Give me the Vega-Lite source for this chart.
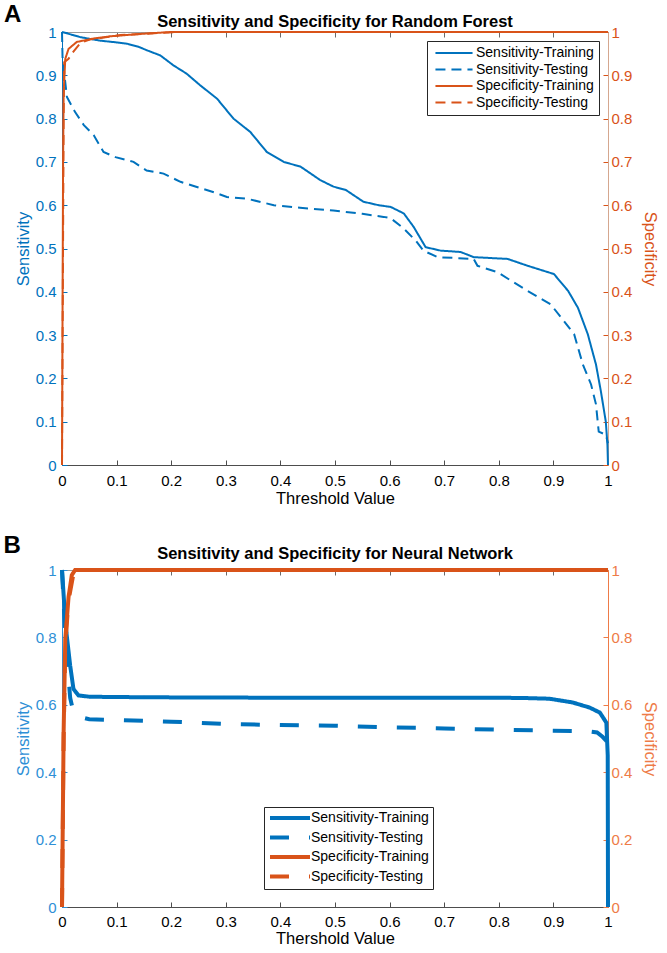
{
  "$schema": "https://vega.github.io/schema/vega-lite/v6.json",
  "padding": {"left": 3, "top": 3, "right": 5, "bottom": 3},
  "spacing": 26,
  "config": {
    "font": "Liberation Sans",
    "view": {"stroke": null},
    "axis": {"grid": false, "tickSize": -5, "labelPadding": 11, "labelFontSize": 15, "titleFontSize": 16.5, "titleFontWeight": "normal", "labelFont": "Liberation Sans", "titleFont": "Liberation Sans"},
    "legend": {"labelFontSize": 14, "labelFont": "Liberation Sans", "labelColor": "#000000", "title": null}
  },
  "datasets": {
    "rf": [
      {"measure":"Sensitivity","series":"Sensitivity-Training","threshold":0,"value":1},
      {"measure":"Sensitivity","series":"Sensitivity-Training","threshold":0.02,"value":0.993},
      {"measure":"Sensitivity","series":"Sensitivity-Training","threshold":0.034,"value":0.988},
      {"measure":"Sensitivity","series":"Sensitivity-Training","threshold":0.07,"value":0.98},
      {"measure":"Sensitivity","series":"Sensitivity-Training","threshold":0.1,"value":0.976},
      {"measure":"Sensitivity","series":"Sensitivity-Training","threshold":0.119,"value":0.973},
      {"measure":"Sensitivity","series":"Sensitivity-Training","threshold":0.14,"value":0.966},
      {"measure":"Sensitivity","series":"Sensitivity-Training","threshold":0.155,"value":0.958},
      {"measure":"Sensitivity","series":"Sensitivity-Training","threshold":0.18,"value":0.946},
      {"measure":"Sensitivity","series":"Sensitivity-Training","threshold":0.204,"value":0.923},
      {"measure":"Sensitivity","series":"Sensitivity-Training","threshold":0.228,"value":0.904},
      {"measure":"Sensitivity","series":"Sensitivity-Training","threshold":0.253,"value":0.877},
      {"measure":"Sensitivity","series":"Sensitivity-Training","threshold":0.284,"value":0.846},
      {"measure":"Sensitivity","series":"Sensitivity-Training","threshold":0.314,"value":0.8},
      {"measure":"Sensitivity","series":"Sensitivity-Training","threshold":0.345,"value":0.769},
      {"measure":"Sensitivity","series":"Sensitivity-Training","threshold":0.375,"value":0.723},
      {"measure":"Sensitivity","series":"Sensitivity-Training","threshold":0.406,"value":0.7},
      {"measure":"Sensitivity","series":"Sensitivity-Training","threshold":0.437,"value":0.689},
      {"measure":"Sensitivity","series":"Sensitivity-Training","threshold":0.473,"value":0.658},
      {"measure":"Sensitivity","series":"Sensitivity-Training","threshold":0.497,"value":0.643},
      {"measure":"Sensitivity","series":"Sensitivity-Training","threshold":0.52,"value":0.635},
      {"measure":"Sensitivity","series":"Sensitivity-Training","threshold":0.552,"value":0.608},
      {"measure":"Sensitivity","series":"Sensitivity-Training","threshold":0.58,"value":0.6},
      {"measure":"Sensitivity","series":"Sensitivity-Training","threshold":0.602,"value":0.596},
      {"measure":"Sensitivity","series":"Sensitivity-Training","threshold":0.626,"value":0.581},
      {"measure":"Sensitivity","series":"Sensitivity-Training","threshold":0.644,"value":0.55},
      {"measure":"Sensitivity","series":"Sensitivity-Training","threshold":0.666,"value":0.503},
      {"measure":"Sensitivity","series":"Sensitivity-Training","threshold":0.694,"value":0.495},
      {"measure":"Sensitivity","series":"Sensitivity-Training","threshold":0.73,"value":0.492},
      {"measure":"Sensitivity","series":"Sensitivity-Training","threshold":0.754,"value":0.48},
      {"measure":"Sensitivity","series":"Sensitivity-Training","threshold":0.816,"value":0.476},
      {"measure":"Sensitivity","series":"Sensitivity-Training","threshold":0.853,"value":0.46},
      {"measure":"Sensitivity","series":"Sensitivity-Training","threshold":0.901,"value":0.441},
      {"measure":"Sensitivity","series":"Sensitivity-Training","threshold":0.927,"value":0.402},
      {"measure":"Sensitivity","series":"Sensitivity-Training","threshold":0.945,"value":0.363},
      {"measure":"Sensitivity","series":"Sensitivity-Training","threshold":0.963,"value":0.302},
      {"measure":"Sensitivity","series":"Sensitivity-Training","threshold":0.978,"value":0.232},
      {"measure":"Sensitivity","series":"Sensitivity-Training","threshold":0.987,"value":0.17},
      {"measure":"Sensitivity","series":"Sensitivity-Training","threshold":0.996,"value":0.1},
      {"measure":"Sensitivity","series":"Sensitivity-Training","threshold":0.999,"value":0.046},
      {"measure":"Sensitivity","series":"Sensitivity-Training","threshold":1,"value":0},
      {"measure":"Sensitivity","series":"Sensitivity-Testing","threshold":0,"value":1},
      {"measure":"Sensitivity","series":"Sensitivity-Testing","threshold":0.001,"value":0.94},
      {"measure":"Sensitivity","series":"Sensitivity-Testing","threshold":0.009,"value":0.85},
      {"measure":"Sensitivity","series":"Sensitivity-Testing","threshold":0.024,"value":0.815},
      {"measure":"Sensitivity","series":"Sensitivity-Testing","threshold":0.04,"value":0.785},
      {"measure":"Sensitivity","series":"Sensitivity-Testing","threshold":0.058,"value":0.762},
      {"measure":"Sensitivity","series":"Sensitivity-Testing","threshold":0.076,"value":0.723},
      {"measure":"Sensitivity","series":"Sensitivity-Testing","threshold":0.098,"value":0.711},
      {"measure":"Sensitivity","series":"Sensitivity-Testing","threshold":0.131,"value":0.7},
      {"measure":"Sensitivity","series":"Sensitivity-Testing","threshold":0.155,"value":0.68},
      {"measure":"Sensitivity","series":"Sensitivity-Testing","threshold":0.186,"value":0.673},
      {"measure":"Sensitivity","series":"Sensitivity-Testing","threshold":0.217,"value":0.654},
      {"measure":"Sensitivity","series":"Sensitivity-Testing","threshold":0.247,"value":0.642},
      {"measure":"Sensitivity","series":"Sensitivity-Testing","threshold":0.278,"value":0.63},
      {"measure":"Sensitivity","series":"Sensitivity-Testing","threshold":0.302,"value":0.619},
      {"measure":"Sensitivity","series":"Sensitivity-Testing","threshold":0.339,"value":0.615},
      {"measure":"Sensitivity","series":"Sensitivity-Testing","threshold":0.388,"value":0.6},
      {"measure":"Sensitivity","series":"Sensitivity-Testing","threshold":0.436,"value":0.594},
      {"measure":"Sensitivity","series":"Sensitivity-Testing","threshold":0.497,"value":0.588},
      {"measure":"Sensitivity","series":"Sensitivity-Testing","threshold":0.55,"value":0.58},
      {"measure":"Sensitivity","series":"Sensitivity-Testing","threshold":0.589,"value":0.573},
      {"measure":"Sensitivity","series":"Sensitivity-Testing","threshold":0.602,"value":0.57},
      {"measure":"Sensitivity","series":"Sensitivity-Testing","threshold":0.626,"value":0.546},
      {"measure":"Sensitivity","series":"Sensitivity-Testing","threshold":0.648,"value":0.518},
      {"measure":"Sensitivity","series":"Sensitivity-Testing","threshold":0.662,"value":0.495},
      {"measure":"Sensitivity","series":"Sensitivity-Testing","threshold":0.688,"value":0.48},
      {"measure":"Sensitivity","series":"Sensitivity-Testing","threshold":0.754,"value":0.476},
      {"measure":"Sensitivity","series":"Sensitivity-Testing","threshold":0.761,"value":0.46},
      {"measure":"Sensitivity","series":"Sensitivity-Testing","threshold":0.798,"value":0.445},
      {"measure":"Sensitivity","series":"Sensitivity-Testing","threshold":0.822,"value":0.426},
      {"measure":"Sensitivity","series":"Sensitivity-Testing","threshold":0.853,"value":0.402},
      {"measure":"Sensitivity","series":"Sensitivity-Testing","threshold":0.895,"value":0.371},
      {"measure":"Sensitivity","series":"Sensitivity-Testing","threshold":0.919,"value":0.333},
      {"measure":"Sensitivity","series":"Sensitivity-Testing","threshold":0.938,"value":0.302},
      {"measure":"Sensitivity","series":"Sensitivity-Testing","threshold":0.954,"value":0.232},
      {"measure":"Sensitivity","series":"Sensitivity-Testing","threshold":0.969,"value":0.186},
      {"measure":"Sensitivity","series":"Sensitivity-Testing","threshold":0.978,"value":0.14},
      {"measure":"Sensitivity","series":"Sensitivity-Testing","threshold":0.983,"value":0.077},
      {"measure":"Sensitivity","series":"Sensitivity-Testing","threshold":0.996,"value":0.07},
      {"measure":"Sensitivity","series":"Sensitivity-Testing","threshold":1,"value":0.05},
      {"measure":"Specificity","series":"Specificity-Training","threshold":0,"value":0},
      {"measure":"Specificity","series":"Specificity-Training","threshold":0.002,"value":0.7},
      {"measure":"Specificity","series":"Specificity-Training","threshold":0.003,"value":0.86},
      {"measure":"Specificity","series":"Specificity-Training","threshold":0.006,"value":0.938},
      {"measure":"Specificity","series":"Specificity-Training","threshold":0.012,"value":0.961},
      {"measure":"Specificity","series":"Specificity-Training","threshold":0.027,"value":0.977},
      {"measure":"Specificity","series":"Specificity-Training","threshold":0.058,"value":0.985},
      {"measure":"Specificity","series":"Specificity-Training","threshold":0.088,"value":0.99},
      {"measure":"Specificity","series":"Specificity-Training","threshold":0.149,"value":0.996},
      {"measure":"Specificity","series":"Specificity-Training","threshold":0.2,"value":1},
      {"measure":"Specificity","series":"Specificity-Training","threshold":1,"value":1},
      {"measure":"Specificity","series":"Specificity-Testing","threshold":0,"value":0},
      {"measure":"Specificity","series":"Specificity-Testing","threshold":0.003,"value":0.8},
      {"measure":"Specificity","series":"Specificity-Testing","threshold":0.004,"value":0.93},
      {"measure":"Specificity","series":"Specificity-Testing","threshold":0.012,"value":0.938},
      {"measure":"Specificity","series":"Specificity-Testing","threshold":0.018,"value":0.95},
      {"measure":"Specificity","series":"Specificity-Testing","threshold":0.034,"value":0.975},
      {"measure":"Specificity","series":"Specificity-Testing","threshold":0.052,"value":0.983},
      {"measure":"Specificity","series":"Specificity-Testing","threshold":0.076,"value":0.987},
      {"measure":"Specificity","series":"Specificity-Testing","threshold":0.107,"value":0.993},
      {"measure":"Specificity","series":"Specificity-Testing","threshold":0.155,"value":0.996},
      {"measure":"Specificity","series":"Specificity-Testing","threshold":0.21,"value":1},
      {"measure":"Specificity","series":"Specificity-Testing","threshold":1,"value":1}
    ],
    "nn": [
      {"measure":"Sensitivity","series":"Sensitivity-Training","threshold":0,"value":1},
      {"measure":"Sensitivity","series":"Sensitivity-Training","threshold":0.004,"value":0.9},
      {"measure":"Sensitivity","series":"Sensitivity-Training","threshold":0.008,"value":0.815},
      {"measure":"Sensitivity","series":"Sensitivity-Training","threshold":0.015,"value":0.716},
      {"measure":"Sensitivity","series":"Sensitivity-Training","threshold":0.021,"value":0.647},
      {"measure":"Sensitivity","series":"Sensitivity-Training","threshold":0.03,"value":0.628},
      {"measure":"Sensitivity","series":"Sensitivity-Training","threshold":0.05,"value":0.624},
      {"measure":"Sensitivity","series":"Sensitivity-Training","threshold":0.1,"value":0.623},
      {"measure":"Sensitivity","series":"Sensitivity-Training","threshold":0.2,"value":0.622},
      {"measure":"Sensitivity","series":"Sensitivity-Training","threshold":0.4,"value":0.621},
      {"measure":"Sensitivity","series":"Sensitivity-Training","threshold":0.6,"value":0.621},
      {"measure":"Sensitivity","series":"Sensitivity-Training","threshold":0.8,"value":0.621},
      {"measure":"Sensitivity","series":"Sensitivity-Training","threshold":0.85,"value":0.62},
      {"measure":"Sensitivity","series":"Sensitivity-Training","threshold":0.893,"value":0.618},
      {"measure":"Sensitivity","series":"Sensitivity-Training","threshold":0.935,"value":0.607},
      {"measure":"Sensitivity","series":"Sensitivity-Training","threshold":0.966,"value":0.592},
      {"measure":"Sensitivity","series":"Sensitivity-Training","threshold":0.985,"value":0.577},
      {"measure":"Sensitivity","series":"Sensitivity-Training","threshold":0.997,"value":0.547},
      {"measure":"Sensitivity","series":"Sensitivity-Training","threshold":0.9995,"value":0.45},
      {"measure":"Sensitivity","series":"Sensitivity-Training","threshold":1,"value":0},
      {"measure":"Sensitivity","series":"Sensitivity-Testing","threshold":0,"value":1},
      {"measure":"Sensitivity","series":"Sensitivity-Testing","threshold":0.004,"value":0.87},
      {"measure":"Sensitivity","series":"Sensitivity-Testing","threshold":0.01,"value":0.72},
      {"measure":"Sensitivity","series":"Sensitivity-Testing","threshold":0.015,"value":0.62},
      {"measure":"Sensitivity","series":"Sensitivity-Testing","threshold":0.02,"value":0.585},
      {"measure":"Sensitivity","series":"Sensitivity-Testing","threshold":0.03,"value":0.565},
      {"measure":"Sensitivity","series":"Sensitivity-Testing","threshold":0.05,"value":0.557},
      {"measure":"Sensitivity","series":"Sensitivity-Testing","threshold":0.1,"value":0.555},
      {"measure":"Sensitivity","series":"Sensitivity-Testing","threshold":0.2,"value":0.55},
      {"measure":"Sensitivity","series":"Sensitivity-Testing","threshold":0.3,"value":0.543},
      {"measure":"Sensitivity","series":"Sensitivity-Testing","threshold":0.4,"value":0.54},
      {"measure":"Sensitivity","series":"Sensitivity-Testing","threshold":0.5,"value":0.538},
      {"measure":"Sensitivity","series":"Sensitivity-Testing","threshold":0.6,"value":0.533},
      {"measure":"Sensitivity","series":"Sensitivity-Testing","threshold":0.7,"value":0.53},
      {"measure":"Sensitivity","series":"Sensitivity-Testing","threshold":0.8,"value":0.526},
      {"measure":"Sensitivity","series":"Sensitivity-Testing","threshold":0.9,"value":0.523},
      {"measure":"Sensitivity","series":"Sensitivity-Testing","threshold":0.96,"value":0.522},
      {"measure":"Sensitivity","series":"Sensitivity-Testing","threshold":0.98,"value":0.518},
      {"measure":"Sensitivity","series":"Sensitivity-Testing","threshold":0.99,"value":0.505},
      {"measure":"Sensitivity","series":"Sensitivity-Testing","threshold":0.997,"value":0.493},
      {"measure":"Sensitivity","series":"Sensitivity-Testing","threshold":1,"value":0.48},
      {"measure":"Specificity","series":"Specificity-Training","threshold":0,"value":0},
      {"measure":"Specificity","series":"Specificity-Training","threshold":0.003,"value":0.52},
      {"measure":"Specificity","series":"Specificity-Training","threshold":0.006,"value":0.795},
      {"measure":"Specificity","series":"Specificity-Training","threshold":0.012,"value":0.92},
      {"measure":"Specificity","series":"Specificity-Training","threshold":0.018,"value":0.985},
      {"measure":"Specificity","series":"Specificity-Training","threshold":0.024,"value":1},
      {"measure":"Specificity","series":"Specificity-Training","threshold":1,"value":1},
      {"measure":"Specificity","series":"Specificity-Testing","threshold":0,"value":0},
      {"measure":"Specificity","series":"Specificity-Testing","threshold":0.003,"value":0.5},
      {"measure":"Specificity","series":"Specificity-Testing","threshold":0.006,"value":0.78},
      {"measure":"Specificity","series":"Specificity-Testing","threshold":0.012,"value":0.91},
      {"measure":"Specificity","series":"Specificity-Testing","threshold":0.02,"value":0.98},
      {"measure":"Specificity","series":"Specificity-Testing","threshold":0.026,"value":1},
      {"measure":"Specificity","series":"Specificity-Testing","threshold":1,"value":1}
    ]
  },
  "resolve": {"scale": {"color": "independent", "strokeDash": "independent"}, "legend": {"color": "independent", "strokeDash": "independent"}},
  "vconcat": [
    {
      "width": 546,
      "height": 433,
      "title": {"text": "Sensitivity and Specificity for Random Forest", "fontSize": 16.5, "fontWeight": "bold", "font": "Liberation Sans", "color": "#000000", "offset": -27},
      "data": {"name": "rf"},
      "resolve": {"scale": {"y": "independent"}, "axis": {"x": "independent", "y": "independent"}},
      "layer": [
        {
          "transform": [{"filter": "datum.measure === 'Sensitivity'"}],
          "mark": {"type": "line", "strokeWidth": 2},
          "encoding": {
            "x": {"field": "threshold", "type": "quantitative", "scale": {"domain": [0, 1], "nice": false},
                  "axis": {"orient": "bottom", "title": "Threshold Value", "values": [0,0.1,0.2,0.3,0.4,0.5,0.6,0.7,0.8,0.9,1], "format": "~g", "domainColor": "#4d4d4d", "tickColor": "#4d4d4d", "labelColor": "#000000", "titleColor": "#000000", "labelPadding": 13, "titlePadding": 2, "labelFlush": false}},
            "y": {"field": "value", "type": "quantitative", "scale": {"domain": [0, 1], "nice": false},
                  "axis": {"orient": "left", "title": "Sensitivity", "values": [0,0.1,0.2,0.3,0.4,0.5,0.6,0.7,0.8,0.9,1], "format": "~g", "domainColor": "#0072BD", "tickColor": "#0072BD", "labelColor": "#0072BD", "titleColor": "#0072BD", "titlePadding": 4, "labelFlush": false}},
            "color": {"field": "series", "type": "nominal",
                      "scale": {"domain": ["Sensitivity-Training","Sensitivity-Testing","Specificity-Training","Specificity-Testing"], "range": ["#0072BD","#0072BD","#D95319","#D95319"]},
                      "legend": {"orient": "top-right", "offset": 9, "strokeColor": "#262626", "fillColor": "#ffffff", "padding": 5, "symbolType": "M-4,0H4", "symbolSize": 86, "symbolOffset": 15, "symbolStrokeWidth": 2, "labelOffset": 15, "rowPadding": 2.5, "cornerRadius": 0}},
            "strokeDash": {"field": "series", "type": "nominal",
                      "scale": {"domain": ["Sensitivity-Training","Sensitivity-Testing","Specificity-Training","Specificity-Testing"], "range": [[1,0],[10,6],[1,0],[10,6]]},
                      "legend": {"orient": "top-right", "offset": 9, "strokeColor": "#262626", "fillColor": "#ffffff", "padding": 5, "symbolType": "M-4,0H4", "symbolSize": 86, "symbolOffset": 15, "symbolStrokeWidth": 2, "labelOffset": 15, "rowPadding": 2.5, "cornerRadius": 0}}
          }
        },
        {
          "transform": [{"filter": "datum.measure === 'Specificity'"}],
          "mark": {"type": "line", "strokeWidth": 2},
          "encoding": {
            "x": {"field": "threshold", "type": "quantitative", "scale": {"domain": [0, 1], "nice": false},
                  "axis": {"orient": "top", "title": null, "labels": false, "values": [0,0.1,0.2,0.3,0.4,0.5,0.6,0.7,0.8,0.9,1], "domainColor": "#9a9a9a", "tickColor": "#6a6a6a"}},
            "y": {"field": "value", "type": "quantitative", "scale": {"domain": [0, 1], "nice": false},
                  "axis": {"orient": "right", "title": "Specificity", "values": [0,0.1,0.2,0.3,0.4,0.5,0.6,0.7,0.8,0.9,1], "format": "~g", "domainColor": "#D5A78F", "tickColor": "#D95319", "labelColor": "#D95319", "titleColor": "#D95319", "labelPadding": 8, "titlePadding": 10, "labelFlush": false}},
            "color": {"field": "series", "type": "nominal",
                      "scale": {"domain": ["Sensitivity-Training","Sensitivity-Testing","Specificity-Training","Specificity-Testing"], "range": ["#0072BD","#0072BD","#D95319","#D95319"]},
                      "legend": {"orient": "top-right", "offset": 9, "strokeColor": "#262626", "fillColor": "#ffffff", "padding": 5, "symbolType": "M-4,0H4", "symbolSize": 86, "symbolOffset": 15, "symbolStrokeWidth": 2, "labelOffset": 15, "rowPadding": 2.5, "cornerRadius": 0}},
            "strokeDash": {"field": "series", "type": "nominal",
                      "scale": {"domain": ["Sensitivity-Training","Sensitivity-Testing","Specificity-Training","Specificity-Testing"], "range": [[1,0],[10,6],[1,0],[10,6]]},
                      "legend": {"orient": "top-right", "offset": 9, "strokeColor": "#262626", "fillColor": "#ffffff", "padding": 5, "symbolType": "M-4,0H4", "symbolSize": 86, "symbolOffset": 15, "symbolStrokeWidth": 2, "labelOffset": 15, "rowPadding": 2.5, "cornerRadius": 0}}
          }
        },
        {
          "data": {"values": [{"label": "A"}]},
          "mark": {"type": "text", "fontSize": 24, "fontWeight": "bold", "font": "Liberation Sans", "align": "left", "baseline": "alphabetic", "color": "#000000"},
          "encoding": {
            "text": {"field": "label"},
            "x": {"datum": -0.106, "type": "quantitative", "axis": null},
            "y": {"datum": 1.022, "type": "quantitative", "scale": {"domain": [0, 1], "nice": false}, "axis": null}
          }
        }
      ]
    },
    {
      "width": 546,
      "height": 337,
      "title": {"text": "Sensitivity and Specificity for Neural Network", "fontSize": 16.5, "fontWeight": "bold", "font": "Liberation Sans", "color": "#000000", "offset": -29},
      "data": {"name": "nn"},
      "resolve": {"scale": {"y": "independent"}, "axis": {"x": "independent", "y": "independent"}},
      "layer": [
        {
          "transform": [{"filter": "datum.measure === 'Sensitivity'"}],
          "mark": {"type": "line", "strokeWidth": 4},
          "encoding": {
            "x": {"field": "threshold", "type": "quantitative", "scale": {"domain": [0, 1], "nice": false},
                  "axis": {"orient": "bottom", "title": "Thershold Value", "values": [0,0.1,0.2,0.3,0.4,0.5,0.6,0.7,0.8,0.9,1], "format": "~g", "domainColor": "#4d4d4d", "tickColor": "#4d4d4d", "labelColor": "#000000", "titleColor": "#000000", "labelPadding": 12, "titlePadding": 1, "labelFlush": false}},
            "y": {"field": "value", "type": "quantitative", "scale": {"domain": [0, 1], "nice": false},
                  "axis": {"orient": "left", "title": "Sensitivity", "values": [0,0.2,0.4,0.6,0.8,1], "format": "~g", "domainColor": "#2E8FD6", "tickColor": "#2E8FD6", "labelColor": "#2E8FD6", "titleColor": "#2E8FD6", "titlePadding": 4, "labelFlush": false}},
            "color": {"field": "series", "type": "nominal",
                      "scale": {"domain": ["Sensitivity-Training","Sensitivity-Testing","Specificity-Training","Specificity-Testing"], "range": ["#0072BD","#0072BD","#D95319","#D95319"]},
                      "legend": {"orient": "none", "legendX": 202, "legendY": 237, "strokeColor": "#262626", "fillColor": "#ffffff", "padding": 4, "symbolType": "M-4,0H4", "symbolSize": 100, "symbolOffset": 15, "symbolStrokeWidth": 4, "labelOffset": 14, "rowPadding": 3.5, "cornerRadius": 0}},
            "strokeDash": {"field": "series", "type": "nominal",
                      "scale": {"domain": ["Sensitivity-Training","Sensitivity-Testing","Specificity-Training","Specificity-Testing"], "range": [[1,0],[19,20],[1,0],[19,20]]},
                      "legend": {"orient": "none", "legendX": 202, "legendY": 237, "strokeColor": "#262626", "fillColor": "#ffffff", "padding": 4, "symbolType": "M-4,0H4", "symbolSize": 100, "symbolOffset": 15, "symbolStrokeWidth": 4, "labelOffset": 14, "rowPadding": 3.5, "cornerRadius": 0}}
          }
        },
        {
          "transform": [{"filter": "datum.measure === 'Specificity'"}],
          "mark": {"type": "line", "strokeWidth": 4},
          "encoding": {
            "x": {"field": "threshold", "type": "quantitative", "scale": {"domain": [0, 1], "nice": false},
                  "axis": {"orient": "top", "title": null, "labels": false, "values": [0,0.1,0.2,0.3,0.4,0.5,0.6,0.7,0.8,0.9,1], "domainColor": "#9a9a9a", "tickColor": "#6a6a6a"}},
            "y": {"field": "value", "type": "quantitative", "scale": {"domain": [0, 1], "nice": false},
                  "axis": {"orient": "right", "title": "Specificity", "values": [0,0.2,0.4,0.6,0.8,1], "format": "~g", "domainColor": "#EE7B47", "tickColor": "#EE7B47", "labelColor": "#EE7B47", "titleColor": "#EE7B47", "labelPadding": 8, "titlePadding": 10, "labelFlush": false}},
            "color": {"field": "series", "type": "nominal",
                      "scale": {"domain": ["Sensitivity-Training","Sensitivity-Testing","Specificity-Training","Specificity-Testing"], "range": ["#0072BD","#0072BD","#D95319","#D95319"]},
                      "legend": {"orient": "none", "legendX": 202, "legendY": 237, "strokeColor": "#262626", "fillColor": "#ffffff", "padding": 4, "symbolType": "M-4,0H4", "symbolSize": 100, "symbolOffset": 15, "symbolStrokeWidth": 4, "labelOffset": 14, "rowPadding": 3.5, "cornerRadius": 0}},
            "strokeDash": {"field": "series", "type": "nominal",
                      "scale": {"domain": ["Sensitivity-Training","Sensitivity-Testing","Specificity-Training","Specificity-Testing"], "range": [[1,0],[19,20],[1,0],[19,20]]},
                      "legend": {"orient": "none", "legendX": 202, "legendY": 237, "strokeColor": "#262626", "fillColor": "#ffffff", "padding": 4, "symbolType": "M-4,0H4", "symbolSize": 100, "symbolOffset": 15, "symbolStrokeWidth": 4, "labelOffset": 14, "rowPadding": 3.5, "cornerRadius": 0}}
          }
        },
        {
          "data": {"values": [{"label": "B"}]},
          "mark": {"type": "text", "fontSize": 24, "fontWeight": "bold", "font": "Liberation Sans", "align": "left", "baseline": "alphabetic", "color": "#000000"},
          "encoding": {
            "text": {"field": "label"},
            "x": {"datum": -0.107, "type": "quantitative", "axis": null},
            "y": {"datum": 1.051, "type": "quantitative", "scale": {"domain": [0, 1], "nice": false}, "axis": null}
          }
        }
      ]
    }
  ]
}
